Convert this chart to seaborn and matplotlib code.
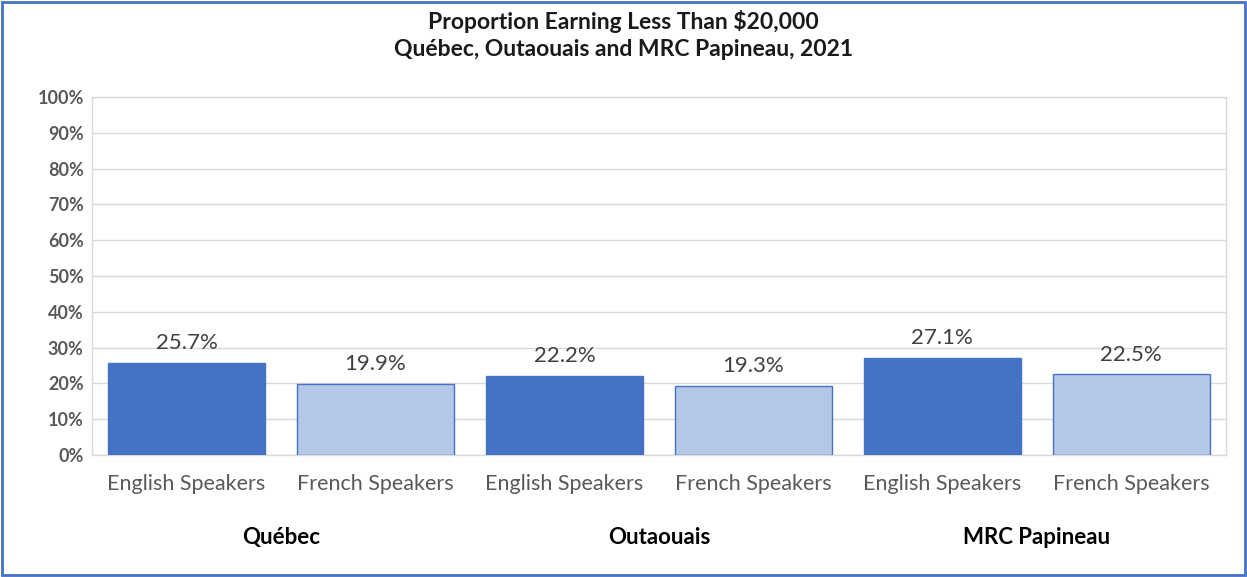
import pandas as pd
import numpy as np
import matplotlib.pyplot as plt
import seaborn as sns
from matplotlib.patches import Rectangle
from matplotlib.ticker import PercentFormatter, MultipleLocator

# values (percent)
regions = ["Québec", "Outaouais", "MRC Papineau"]
speakers = ["English Speakers", "French Speakers"]
english = [25.7, 22.2, 27.1]
french = [19.9, 19.3, 22.5]

df = pd.DataFrame({
    "region": regions * 2,
    "speaker": [speakers[0]] * 3 + [speakers[1]] * 3,
    "value": english + french,
})

sns.set_theme(style="white")
plt.rcParams['font.family'] = ['Lato', 'DejaVu Sans']

fig = plt.figure(figsize=(12.47, 5.77), dpi=100)
ax = fig.add_axes([0.0738, 0.2114, 0.9092, 0.6206])

dark = "#4472C4"
light = "#B4C7E7"
sns.barplot(data=df, x="region", y="value", hue="speaker", order=regions,
            hue_order=speakers, palette=[dark, light], width=1.0, gap=0.17,
            saturation=1, legend=False, ax=ax, zorder=3)

for p in ax.patches:
    p.set_edgecolor(dark)
    p.set_linewidth(1)

# data labels
for c in ax.containers:
    ax.bar_label(c, labels=[f"{v:.1f}%" for v in c.datavalues], padding=7,
                 fontsize=16, color="#404040")

ax.set_xlim(-0.5, 2.5)
ax.set_ylim(0, 100)
ax.yaxis.set_major_locator(MultipleLocator(10))
ax.yaxis.set_major_formatter(PercentFormatter(decimals=0))
ax.grid(axis="y", color="#D9D9D9", linewidth=1, zorder=0)
for s in ax.spines.values():
    s.set_color("#D9D9D9")
    s.set_linewidth(1)

pos = []
labs = []
for i in range(len(regions)):
    pos += [i - 0.25, i + 0.25]
    labs += speakers
ax.set_xticks(pos)
ax.set_xticklabels(labs, fontsize=15.5, color="#595959")
ax.tick_params(axis="x", length=0, pad=14)
ax.tick_params(axis="y", length=0, pad=6, labelsize=13, labelcolor="#595959")
for t in ax.get_yticklabels():
    t.set_fontweight("bold")
ax.set_xlabel("")
ax.set_ylabel("")

for i, r in enumerate(regions):
    ax.text(i, -0.23, r, transform=ax.get_xaxis_transform(), ha="center",
            va="center", fontsize=16, fontweight="bold", color="black")

fig.text(0.5, 0.94, "Proportion Earning Less Than $20,000\nQuébec, Outaouais and MRC Papineau, 2021",
         ha="center", va="center", fontsize=16.5, fontweight="bold",
         color="#1a1a1a", linespacing=1.35)

fig.patches.append(Rectangle((0.002, 0.003), 0.996, 0.994, transform=fig.transFigure,
                             fill=False, edgecolor=dark, linewidth=2))

fig.savefig("out.png", dpi=100, facecolor="white")
